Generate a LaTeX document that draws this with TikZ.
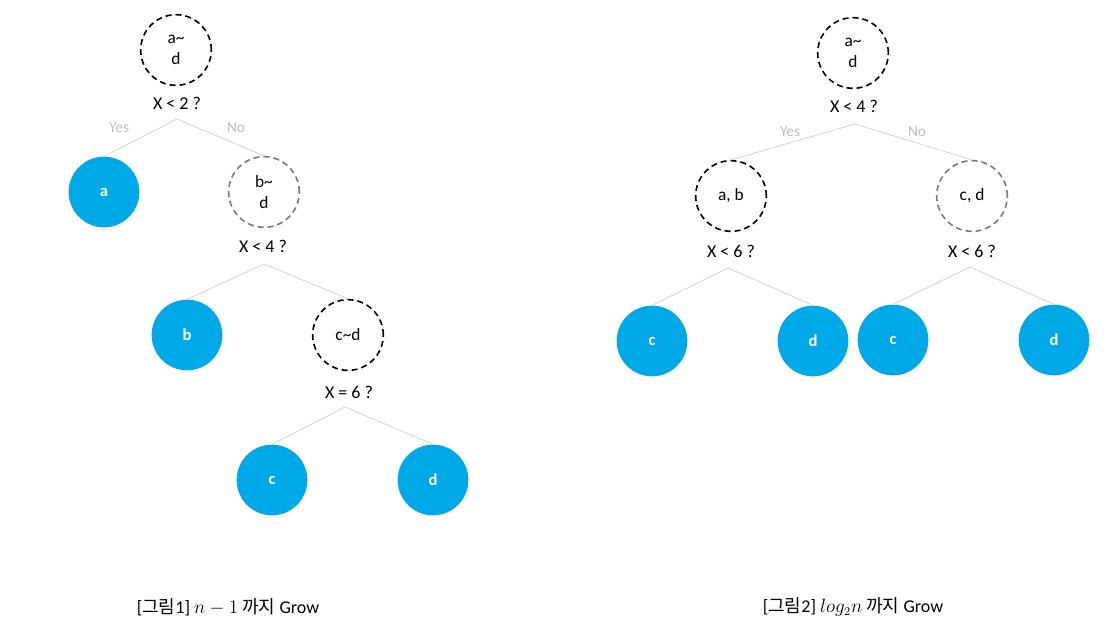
\documentclass[tikz,border=0pt]{standalone}
\usepackage{fontspec}
\setmainfont{Carlito}
\newfontfamily\kr{Noto Sans CJK KR}
\definecolor{leafblue}{HTML}{00A8E8}
\definecolor{edgegray}{HTML}{D3D3D3}
\definecolor{labgray}{HTML}{BDBDBD}
\definecolor{dashgray}{HTML}{7A7A7A}
\begin{document}
\begin{tikzpicture}[x=0.75pt,y=-0.75pt,
  inner/.style={circle,draw=black,line width=1.2pt,dash pattern=on 4.5pt off 3pt,minimum size=53pt,inner sep=0pt,align=center,font=\fontsize{13}{15.5}\selectfont},
  innergray/.style={inner,draw=dashgray},
  leaf/.style={circle,fill=leafblue,minimum size=53pt,inner sep=0pt,text=white,font=\fontsize{12.5}{14}\selectfont\bfseries},
  qlab/.style={font=\fontsize{13.5}{15}\selectfont,inner sep=0pt},
  yn/.style={font=\fontsize{11.5}{13}\selectfont,text=labgray,inner sep=0pt},
  conn/.style={draw=edgegray,line width=0.6pt},
  captext/.style={font=\fontsize{13.5}{16}\selectfont,inner sep=0pt}]
\useasboundingbox (0,0) rectangle (1120,629);
% ---------- left tree ----------
\node[inner] (L0) at (176,50) {a\textasciitilde\\d};
\node[qlab] (Lq0) at (177,103) {X < 2 ?};
\coordinate (Lb0) at (177,119);
\node[yn] (Lyes) at (119,128) {Yes};
\node[yn] (Lno) at (236,128) {No};
\node[leaf] (La) at (104,192) {a};
\node[innergray] (L1) at (264,192) {b\textasciitilde\\d};
\draw[conn] (Lb0) -- (La.north);
\draw[conn] (Lb0) -- (L1.north);
\node[qlab] (Lq1) at (263,246) {X < 4 ?};
\coordinate (Lb1) at (264,264);
\node[leaf] (Lb) at (187,335) {b};
\node[inner] (L2) at (348,335) {c\textasciitilde d};
\draw[conn] (Lb1) -- (Lb.north);
\draw[conn] (Lb1) -- (L2.north);
\node[qlab] (Lq2) at (349,392) {X = 6 ?};
\coordinate (Lb2) at (345,407);
\node[leaf] (Lc) at (272,480) {c};
\node[leaf] (Ld) at (433,480) {d};
\draw[conn] (Lb2) -- (Lc.north);
\draw[conn] (Lb2) -- (Ld.north);
\node[captext] (cap1) at (228,607) {[{\kr 그림}1] $n-1$ {\kr 까지} Grow};
% ---------- right tree ----------
\node[inner] (R0) at (853,53) {a\textasciitilde\\d};
\node[qlab] (Rq0) at (854,106) {X < 4 ?};
\coordinate (Rb0) at (855,124);
\node[yn] (Ryes) at (790,132) {Yes};
\node[yn] (Rno) at (917,132) {No};
\node[inner] (R1) at (731,196) {a, b};
\node[innergray] (R2) at (972,196) {c, d};
\draw[conn] (Rb0) -- (R1.north);
\draw[conn] (Rb0) -- (R2.north);
\node[qlab] (Rq1) at (731,251) {X < 6 ?};
\node[qlab] (Rq2) at (972,251) {X < 6 ?};
\coordinate (Rb1) at (728,268);
\coordinate (Rb2) at (970,267);
\node[leaf] (Rc1) at (652,341) {c};
\node[leaf] (Rd1) at (813,341) {d};
\node[leaf] (Rc2) at (893,340) {c};
\node[leaf] (Rd2) at (1054,340) {d};
\draw[conn] (Rb1) -- (Rc1.north);
\draw[conn] (Rb1) -- (Rd1.north);
\draw[conn] (Rb2) -- (Rc2.north);
\draw[conn] (Rb2) -- (Rd2.north);
\node[captext] (cap2) at (853,607) {[{\kr 그림}2] $log_2 n$ {\kr 까지} Grow};
\end{tikzpicture}
\end{document}
